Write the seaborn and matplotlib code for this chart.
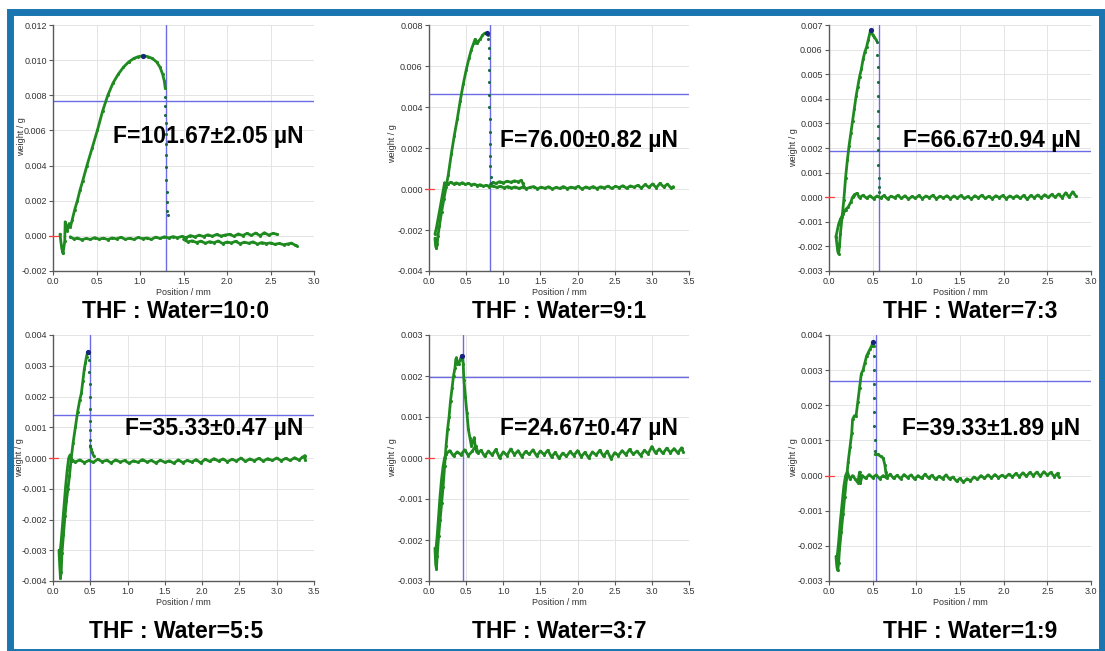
import matplotlib
matplotlib.use("Agg")
import matplotlib.pyplot as plt
import matplotlib.patches as mpatches
from matplotlib.ticker import MultipleLocator, FormatStrFormatter
import pandas as pd
import seaborn as sns

# Panel labels and annotations
captions = ["THF : Water=10:0", "THF : Water=9:1", "THF : Water=7:3",
            "THF : Water=5:5", "THF : Water=3:7", "THF : Water=1:9"]
forces = ["F=101.67\u00b12.05 \u00b5N", "F=76.00\u00b10.82 \u00b5N", "F=66.67\u00b10.94 \u00b5N",
          "F=35.33\u00b10.47 \u00b5N", "F=24.67\u00b10.47 \u00b5N", "F=39.33\u00b11.89 \u00b5N"]

# Axis ranges
x_max = [3.0, 3.5, 3.0, 3.5, 3.5, 3.0]
y_min = [-0.002, -0.004, -0.003, -0.004, -0.003, -0.003]
y_max = [0.012, 0.008, 0.007, 0.004, 0.003, 0.004]
y_step = [0.002, 0.002, 0.001, 0.001, 0.001, 0.001]

# Cursor lines (x = position, y = weight)
cursor_x = [1.296, 0.82, 0.573, 0.498, 0.46, 0.54]
cursor_y = [0.0077, 0.00463, 0.00186, 0.0014, 0.00198, 0.00269]

# Peak points
peak_x = [1.03, 0.78, 0.48, 0.47, 0.45, 0.50]
peak_y = [0.01025, 0.0076, 0.0068, 0.00345, 0.0025, 0.0038]

# ---- Panel 1: THF:Water = 10:0
p1_rise = [(0.08, 0.0001), (0.10, -0.0007), (0.115, -0.0010), (0.135, -0.0003), (0.14, 0.0008),
           (0.165, 0.0003), (0.185, 0.0007), (0.20, 0.0005), (0.22, 0.0009), (0.25, 0.0015),
           (0.28, 0.0020), (0.31, 0.0026), (0.34, 0.0031), (0.39, 0.0040), (0.45, 0.0050),
           (0.51, 0.0060), (0.57, 0.0071), (0.63, 0.0080), (0.69, 0.0087), (0.75, 0.0092),
           (0.81, 0.0096), (0.87, 0.0099), (0.93, 0.0101), (0.98, 0.0102), (1.04, 0.01025),
           (1.09, 0.0102), (1.14, 0.0101), (1.19, 0.0099), (1.23, 0.0096), (1.26, 0.0092),
           (1.28, 0.0088), (1.29, 0.0084)]
p1_drop = [(1.29, 0.0079), (1.29, 0.0074), (1.29, 0.0069), (1.30, 0.0064), (1.30, 0.0058),
           (1.30, 0.0052), (1.30, 0.0046), (1.30, 0.0039), (1.30, 0.0032), (1.31, 0.0025),
           (1.31, 0.0019), (1.31, 0.0014), (1.32, 0.0012)]
p1_base_a = [(0.20, -0.00005), (0.24, -0.00018), (0.28, -0.00012), (0.33, -0.00022), (0.38, -0.00015),
             (0.43, -0.0002), (0.48, -0.0001), (0.53, -0.00019), (0.58, -0.00013), (0.63, -0.00021),
             (0.68, -0.00012), (0.73, -0.00017), (0.78, -0.00008), (0.83, -0.00019), (0.88, -0.00014),
             (0.93, -0.0002), (0.98, -0.00009), (1.03, -0.00016), (1.08, -0.00012), (1.13, -0.0002),
             (1.18, -0.00007), (1.23, -0.00015), (1.28, -0.00005), (1.33, -0.00012), (1.38, -0.00004),
             (1.43, -0.00011), (1.48, -0.00003), (1.53, -0.0001), (1.58, 0.00002), (1.63, -0.00006),
             (1.68, 0.00004), (1.73, -0.00004), (1.78, 0.00006), (1.83, -0.00002), (1.88, 0.00008),
             (1.93, -0.00001), (1.98, 0.00005), (2.03, 0.00009), (2.08, -0.00002), (2.13, 0.00011),
             (2.18, 0.00002), (2.23, 0.00014), (2.28, 0.00003), (2.33, 0.00016), (2.38, 0.00001),
             (2.43, 0.00018), (2.48, 0.00004), (2.53, 0.00015), (2.58, 0.00008)]
p1_base_b = [(1.50, -0.0002), (1.55, -0.00034), (1.60, -0.00028), (1.65, -0.00038), (1.70, -0.0003),
             (1.75, -0.00042), (1.80, -0.00033), (1.85, -0.00039), (1.90, -0.00029), (1.95, -0.00044),
             (2.00, -0.00035), (2.05, -0.0004), (2.10, -0.00031), (2.15, -0.00045), (2.20, -0.00036),
             (2.25, -0.00042), (2.30, -0.00034), (2.35, -0.00047), (2.40, -0.00038), (2.45, -0.00044),
             (2.50, -0.0004), (2.55, -0.00048), (2.60, -0.00043), (2.65, -0.0005), (2.70, -0.00046),
             (2.74, -0.00041), (2.78, -0.00052), (2.80, -0.00055)]

# ---- Panel 2: THF:Water = 9:1
p2_rise = [(0.08, -0.0024), (0.09, -0.0028), (0.10, -0.0029), (0.11, -0.0027), (0.12, -0.0023),
           (0.14, -0.0018), (0.17, -0.0011), (0.20, -0.0005), (0.23, 0.0001), (0.26, 0.0007),
           (0.30, 0.0017), (0.34, 0.0026), (0.38, 0.0034), (0.42, 0.0043), (0.46, 0.0051),
           (0.50, 0.0058), (0.54, 0.0064), (0.57, 0.0068), (0.60, 0.0071), (0.62, 0.0073),
           (0.64, 0.0071), (0.66, 0.0072), (0.69, 0.0073), (0.72, 0.0075), (0.75, 0.0076),
           (0.78, 0.0076), (0.80, 0.0075)]
p2_drop = [(0.80, 0.0073), (0.81, 0.0069), (0.81, 0.0064), (0.81, 0.0058), (0.81, 0.0052),
           (0.81, 0.0046), (0.81, 0.0040), (0.82, 0.0034), (0.82, 0.0028), (0.82, 0.0022),
           (0.82, 0.0016), (0.82, 0.0011), (0.83, 0.0006), (0.83, 0.0003)]
p2_left = [(0.08, -0.0022), (0.10, -0.0019), (0.12, -0.0015), (0.15, -0.0009), (0.18, -0.0003),
           (0.21, 0.0003)]
p2_base_a = [(0.21, 0.0003), (0.25, 0.00022), (0.29, 0.00033), (0.33, 0.00025), (0.37, 0.0003),
             (0.41, 0.00024), (0.45, 0.00031), (0.49, 0.00022), (0.53, 0.00028), (0.57, 0.0002),
             (0.61, 0.00024), (0.65, 0.00017), (0.69, 0.00021), (0.73, 0.00014), (0.77, 0.00018),
             (0.81, 0.00012), (0.86, 0.00015), (0.91, 0.00008), (0.96, 0.00013), (1.01, 0.00006),
             (1.06, 0.00012), (1.11, 0.00005), (1.16, 0.0001), (1.21, 0.00003), (1.26, 0.00009),
             (1.31, 0.00002), (1.36, 0.00008), (1.41, 0.00012), (1.46, 0.00001), (1.51, 0.00009),
             (1.56, 0.00004), (1.61, 0.00011), (1.66, 0.0), (1.71, 0.00008), (1.76, 0.00003),
             (1.81, 0.00012), (1.86, 0.00002), (1.91, 0.00009), (1.96, 0.00005), (2.01, 0.00013),
             (2.06, 0.0), (2.11, 0.0001), (2.16, 0.00004), (2.21, 0.00012), (2.26, 0.00002),
             (2.31, 0.00011), (2.36, 0.00006), (2.41, 0.00014), (2.46, 0.00003), (2.51, 0.00013),
             (2.56, 0.00007), (2.61, 0.00016), (2.66, 0.00004), (2.71, 0.00015), (2.76, 0.00009),
             (2.81, 0.00018), (2.86, 0.00005), (2.91, 0.00022), (2.96, 0.00008), (3.01, 0.00025),
             (3.06, 0.00006), (3.11, 0.00028), (3.16, 0.0001), (3.21, 0.00024), (3.26, 0.00004),
             (3.29, 0.00012)]
p2_base_b = [(0.82, 0.0002), (0.86, 0.00032), (0.90, 0.00027), (0.95, 0.00036), (1.00, 0.0003),
             (1.05, 0.00038), (1.10, 0.00033), (1.15, 0.0004), (1.20, 0.00035), (1.24, 0.00042),
             (1.26, 0.0003), (1.28, 0.00012)]

# ---- Panel 3: THF:Water = 7:3
p3_rise = [(0.08, -0.0016), (0.09, -0.0019), (0.10, -0.0022), (0.11, -0.0023), (0.12, -0.0020),
           (0.13, -0.0015), (0.15, -0.0008), (0.17, -0.0001), (0.19, 0.0008), (0.21, 0.0015),
           (0.23, 0.0021), (0.25, 0.0026), (0.27, 0.0031), (0.29, 0.0036), (0.31, 0.0041),
           (0.33, 0.0045), (0.35, 0.0049), (0.37, 0.0052), (0.39, 0.0056), (0.41, 0.0059),
           (0.43, 0.0061), (0.45, 0.0064), (0.47, 0.0067), (0.48, 0.0068), (0.50, 0.0066),
           (0.52, 0.0065), (0.54, 0.0064)]
p3_drop = [(0.55, 0.0063), (0.55, 0.0058), (0.56, 0.0053), (0.56, 0.0047), (0.56, 0.0041),
           (0.56, 0.0035), (0.56, 0.0029), (0.56, 0.0024), (0.56, 0.0019), (0.56, 0.0013),
           (0.57, 0.0008), (0.57, 0.0004), (0.57, 0.0002)]
p3_left = [(0.08, -0.0016), (0.11, -0.0011), (0.13, -0.0009), (0.16, -0.0007), (0.19, -0.0005),
           (0.22, -0.0004), (0.25, -0.0002), (0.27, 0.0), (0.29, 0.0001)]
p3_base = [(0.29, 0.0001), (0.32, 0.00016), (0.35, -0.00002), (0.39, 0.00008), (0.43, -0.00004),
           (0.47, 0.00006), (0.51, -0.00006), (0.55, 0.00005), (0.59, -0.00003), (0.63, 0.00007),
           (0.67, -0.00007), (0.71, 0.00004), (0.75, -0.00002), (0.79, 0.00008), (0.83, -0.00005),
           (0.87, 0.00006), (0.91, -0.00008), (0.95, 0.00003), (0.99, -0.00004), (1.03, 0.00007),
           (1.07, -0.00006), (1.11, 0.00005), (1.15, -0.00002), (1.19, 0.00008), (1.23, -0.00007),
           (1.27, 0.00004), (1.31, -0.00003), (1.35, 0.00006), (1.39, -0.00006), (1.43, 0.00005),
           (1.47, -0.00004), (1.51, 0.00007), (1.55, -0.00005), (1.59, 0.00003), (1.63, -0.00007),
           (1.67, 0.00006), (1.71, -0.00003), (1.75, 0.00008), (1.79, -0.00005), (1.83, 0.00004),
           (1.87, -0.00006), (1.91, 0.00006), (1.95, -0.00002), (1.99, 0.00007), (2.03, -0.00006),
           (2.07, 0.00005), (2.11, -0.00003), (2.15, 0.00006), (2.19, -0.00005), (2.23, 0.00008),
           (2.27, -0.00009), (2.31, 0.00007), (2.35, -0.00002), (2.39, 0.00009), (2.43, -0.00003),
           (2.47, 0.0001), (2.51, -0.00001), (2.55, 0.00011), (2.59, 0.0), (2.63, 0.00013),
           (2.67, -0.00002), (2.71, 0.00018), (2.75, 0.0), (2.79, 0.00022), (2.83, 0.00003)]

# ---- Panel 4: THF:Water = 5:5
p4_rise = [(0.08, -0.0030), (0.09, -0.0035), (0.10, -0.0039), (0.11, -0.0037), (0.12, -0.0031),
           (0.14, -0.0025), (0.16, -0.0019), (0.18, -0.0014), (0.20, -0.0010), (0.22, -0.0006),
           (0.245, 0.0), (0.27, 0.0005), (0.30, 0.0010), (0.33, 0.0015), (0.36, 0.0019),
           (0.38, 0.0021), (0.40, 0.0025), (0.42, 0.0029), (0.435, 0.0031), (0.45, 0.0033),
           (0.46, 0.0034), (0.47, 0.00345), (0.48, 0.0034)]
p4_drop = [(0.48, 0.0032), (0.48, 0.0028), (0.49, 0.0024), (0.49, 0.0020), (0.49, 0.0016),
           (0.49, 0.0012), (0.49, 0.0009), (0.49, 0.0006), (0.50, 0.0004)]
p4_bump = [(0.50, 0.0004), (0.51, 0.0003), (0.52, 0.0002), (0.55, 0.00005)]
p4_left = [(0.09, -0.0032), (0.11, -0.0027), (0.13, -0.0021), (0.15, -0.0015), (0.17, -0.0009),
           (0.19, -0.0004), (0.21, 0.0), (0.23, 0.0001), (0.25, -0.0001)]
p4_base = [(0.25, -0.00005), (0.30, -0.00013), (0.36, -0.00006), (0.42, -0.00015), (0.48, -0.00008),
           (0.54, -0.00014), (0.60, -0.00004), (0.66, -0.00012), (0.72, -0.00007), (0.78, -0.00016),
           (0.84, -0.00006), (0.90, -0.00013), (0.96, -0.00008), (1.02, -0.00017), (1.08, -0.00009),
           (1.14, -0.00014), (1.20, -0.00005), (1.26, -0.00013), (1.32, -0.00008), (1.38, -0.00016),
           (1.44, -0.00007), (1.50, -0.00014), (1.56, -0.00009), (1.62, -0.00017), (1.68, -0.00006),
           (1.74, -0.00015), (1.80, -0.00008), (1.86, -0.00013), (1.92, -0.00005), (1.98, -0.00016),
           (2.04, -0.00004), (2.10, -0.00011), (2.16, -0.00002), (2.22, -0.0001), (2.28, -0.00003),
           (2.34, -0.00012), (2.40, -0.00004), (2.46, -0.0001), (2.52, 0.0), (2.58, -0.00011),
           (2.64, -0.00003), (2.70, -0.00009), (2.76, -0.00001), (2.82, -0.0001), (2.88, -0.00002),
           (2.94, -0.00008), (3.00, 0.0), (3.06, -0.00009), (3.12, -0.00001), (3.18, -0.00008),
           (3.24, 0.00001), (3.30, -0.00007), (3.34, 0.00002), (3.38, 0.00008), (3.38, -0.00006)]

# ---- Panel 5: THF:Water = 3:7
p5_rise = [(0.08, -0.0022), (0.09, -0.0026), (0.10, -0.0027), (0.11, -0.0024), (0.13, -0.0019),
           (0.15, -0.0015), (0.17, -0.0011), (0.19, -0.0007), (0.21, -0.0002), (0.23, 0.0003),
           (0.25, 0.0007), (0.27, 0.0010), (0.29, 0.0014), (0.31, 0.0017), (0.33, 0.0020),
           (0.35, 0.0022), (0.36, 0.0024), (0.37, 0.00245), (0.38, 0.0023), (0.40, 0.0023),
           (0.42, 0.0024), (0.44, 0.0025), (0.45, 0.0025), (0.46, 0.0023), (0.47, 0.0019),
           (0.49, 0.0015), (0.51, 0.0011), (0.53, 0.0007), (0.55, 0.0005), (0.57, 0.0003),
           (0.59, 0.0004), (0.61, 0.0005), (0.62, 0.0003), (0.64, 0.00015)]
p5_left = [(0.09, -0.0023), (0.11, -0.0019), (0.13, -0.0014), (0.15, -0.0009), (0.17, -0.0005),
           (0.19, -0.0002), (0.21, 0.0), (0.23, 0.0001)]
p5_base = [(0.23, 0.0001), (0.28, 0.00018), (0.33, 0.00005), (0.38, 0.00015), (0.43, 0.00008),
           (0.48, 0.0002), (0.53, 0.00006), (0.58, 0.00016), (0.63, 0.0003), (0.66, 0.00012),
           (0.70, 0.00019), (0.75, 0.00004), (0.80, 0.00017), (0.85, 0.00007), (0.90, 0.00021),
           (0.95, 0.0), (1.00, 0.00015), (1.05, 0.00006), (1.10, 0.00022), (1.15, 0.00008),
           (1.20, 0.00018), (1.25, 0.00003), (1.30, 0.00016), (1.35, 0.00009), (1.40, 0.0002),
           (1.45, 0.00005), (1.50, 0.00017), (1.55, 0.00008), (1.60, 0.00019), (1.65, 0.00002),
           (1.70, 0.00014), (1.75, -0.00001), (1.80, 0.00012), (1.85, 0.00004), (1.90, 0.00016),
           (1.95, 0.00006), (2.00, 0.00018), (2.05, 0.00003), (2.10, 0.00014), (2.15, 0.0),
           (2.20, 0.00015), (2.25, 0.00007), (2.30, 0.00019), (2.35, 0.00004), (2.40, 0.00017),
           (2.45, -0.00002), (2.50, 0.00013), (2.55, 0.00006), (2.60, 0.00018), (2.65, 0.00008),
           (2.70, 0.00021), (2.75, 0.00009), (2.80, 0.00017), (2.85, 0.00006), (2.90, 0.00019),
           (2.95, 0.0001), (3.00, 0.00028), (3.05, 0.00012), (3.10, 0.00022), (3.15, 0.00011),
           (3.20, 0.00024), (3.25, 0.00013), (3.30, 0.00023), (3.35, 0.00012), (3.40, 0.00025),
           (3.42, 0.00015)]

# ---- Panel 6: THF:Water = 1:9
p6_rise = [(0.08, -0.0023), (0.09, -0.0026), (0.10, -0.0027), (0.11, -0.0025), (0.12, -0.0021),
           (0.14, -0.0016), (0.16, -0.0011), (0.18, -0.0006), (0.20, -0.0001), (0.22, 0.0004),
           (0.24, 0.0008), (0.26, 0.0012), (0.27, 0.0016), (0.29, 0.0017), (0.31, 0.0017),
           (0.33, 0.0021), (0.35, 0.0025), (0.37, 0.0029), (0.39, 0.0030), (0.41, 0.0032),
           (0.43, 0.0034), (0.45, 0.0035), (0.47, 0.0036), (0.49, 0.0037), (0.50, 0.0038),
           (0.51, 0.0037)]
p6_drop = [(0.52, 0.0034), (0.52, 0.0030), (0.52, 0.0026), (0.52, 0.0022), (0.52, 0.0018),
           (0.52, 0.0014), (0.53, 0.0010), (0.53, 0.0007)]
p6_bump = [(0.53, 0.0006), (0.56, 0.0006), (0.59, 0.00055), (0.62, 0.0005), (0.64, 0.0003),
           (0.65, 0.0001), (0.66, 0.0)]
p6_left = [(0.09, -0.0024), (0.11, -0.0019), (0.13, -0.0013), (0.15, -0.0008), (0.17, -0.0003),
           (0.19, 0.0), (0.21, 0.0001), (0.24, -0.0001), (0.27, 0.0), (0.30, -0.0001),
           (0.33, -0.0002), (0.35, 0.0001), (0.36, -0.0002), (0.38, 0.0)]
p6_base = [(0.38, 0.0), (0.42, -0.00008), (0.46, 0.00003), (0.50, -0.00006), (0.54, 0.00002),
           (0.58, -0.00009), (0.62, 0.0), (0.66, -0.00007), (0.70, 0.00004), (0.74, -0.00008),
           (0.78, 0.00001), (0.82, -0.00009), (0.86, 0.00003), (0.90, -0.00006), (0.94, 0.00002),
           (0.98, -0.0001), (1.02, 0.0), (1.06, -0.00008), (1.10, 0.00004), (1.14, -0.00007),
           (1.18, 0.00001), (1.22, -0.00011), (1.26, -0.00002), (1.30, -0.00009), (1.34, 0.00002),
           (1.38, -0.0001), (1.42, -0.00004), (1.46, -0.00016), (1.50, -0.00008), (1.54, -0.00019),
           (1.58, -0.00009), (1.62, -0.00015), (1.66, -0.00004), (1.70, -0.00011), (1.74, 0.0),
           (1.78, -0.00008), (1.82, 0.00002), (1.86, -0.00007), (1.90, 0.00003), (1.94, -0.00006),
           (1.98, 0.00001), (2.02, -0.00005), (2.06, 0.00004), (2.10, -0.00004), (2.14, 0.00006),
           (2.18, -0.00003), (2.22, 0.00008), (2.26, -0.00002), (2.30, 0.00009), (2.34, 0.0),
           (2.38, 0.0001), (2.42, -0.00002), (2.46, 0.00011), (2.50, 0.00001), (2.54, 0.00009),
           (2.58, -0.00003), (2.62, 0.00007), (2.63, -0.00004)]

line_segments = [
    [p1_rise, p1_base_a, p1_base_b],
    [p2_rise, p2_left, p2_base_a, p2_base_b],
    [p3_rise, p3_left, p3_base],
    [p4_rise, p4_bump, p4_left, p4_base],
    [p5_rise, p5_left, p5_base],
    [p6_rise, p6_bump, p6_left, p6_base],
]
drop_points = [p1_drop, p2_drop, p3_drop, p4_drop, [], p6_drop]

# ---- layout (pixels of the 1105x651 image)
W, H = 1105, 651
col_left = [53, 429, 829]
col_right = [314, 689, 1091]
row_top = [25, 335]
row_bottom = [271, 581]
force_pos = [(113, 137), (500, 140), (903, 140), (125, 428), (500, 428), (902, 428)]
caption_x = [176, 559, 970]
caption_y = [311, 632]
ylabel_x = [-0.105, -0.122, -0.117, -0.11, -0.122, -0.117]
ylabel_y = [0.545, 0.52, 0.5, 0.5, 0.5, 0.5]

GREEN = "#1f8a1f"
DROP = "#1d6b45"
CURSOR = "#6b6be6"
FRAME = "#1a75b0"

sns.set_style("whitegrid")
plt.rcParams["font.family"] = ["Liberation Sans", "DejaVu Sans"]

fig = plt.figure(figsize=(W / 100, H / 100), dpi=100)

for i in range(6):
    r, c = divmod(i, 3)
    left = col_left[c] / W
    bottom = 1 - row_bottom[r] / H
    width = (col_right[c] - col_left[c]) / W
    height = (row_bottom[r] - row_top[r]) / H
    ax = fig.add_axes([left, bottom, width, height])

    ax.axvline(cursor_x[i], color=CURSOR, lw=1.0, zorder=1)
    ax.axhline(cursor_y[i], color=CURSOR, lw=1.0, zorder=1)

    for seg in line_segments[i]:
        df = pd.DataFrame(seg, columns=["x", "y"])
        sns.lineplot(data=df, x="x", y="y", sort=False, estimator=None, ax=ax,
                     color=GREEN, lw=2.0, marker="o", markersize=2.2,
                     markeredgewidth=0, zorder=3)
    if drop_points[i]:
        dd = pd.DataFrame(drop_points[i], columns=["x", "y"])
        sns.scatterplot(data=dd, x="x", y="y", ax=ax, color=DROP, s=5,
                        linewidth=0, zorder=4)
    sns.scatterplot(x=[peak_x[i]], y=[peak_y[i]], ax=ax, color="#1a237e", s=14,
                    linewidth=0, zorder=5)

    ax.axhline(0, xmin=-0.015, xmax=0.02, color="#ff3b3b", lw=0.9, clip_on=False, zorder=6)

    ax.set_xlim(0, x_max[i])
    ax.set_ylim(y_min[i], y_max[i])
    ax.xaxis.set_major_locator(MultipleLocator(0.5))
    ax.yaxis.set_major_locator(MultipleLocator(y_step[i]))
    ax.xaxis.set_major_formatter(FormatStrFormatter("%.1f"))
    ax.yaxis.set_major_formatter(FormatStrFormatter("%.3f"))

    ax.grid(True, color="#e4e4e4", lw=0.7)
    ax.set_facecolor("white")
    for s in ["top", "right"]:
        ax.spines[s].set_visible(False)
    for s in ["left", "bottom"]:
        ax.spines[s].set_color("#5a5a5a")
        ax.spines[s].set_linewidth(1.0)
    ax.tick_params(left=True, bottom=True, length=3, width=0.8, color="#5a5a5a",
                   labelsize=6.5, labelcolor="#333333", pad=1.5)

    ax.set_xlabel("Position / mm", fontsize=6.5, color="#333333")
    ax.set_ylabel("weight / g", fontsize=6.5, color="#333333")
    ax.xaxis.set_label_coords(0.5, -0.07)
    ax.yaxis.set_label_coords(ylabel_x[i], ylabel_y[i])

    fx, fy = force_pos[i]
    fig.text(fx / W, 1 - fy / H, forces[i], fontsize=16.5, fontweight="bold",
             ha="left", va="center", color="black")
    fig.text(caption_x[c] / W, 1 - caption_y[r] / H, captions[i], fontsize=16.5,
             fontweight="bold", ha="center", va="center", color="black")

# Blue outer frame
frame = mpatches.Rectangle((9.5 / W, -0.5 / H), 1092 / W, 640 / H,
                           transform=fig.transFigure, fill=False,
                           edgecolor=FRAME, linewidth=5.0)
fig.patches.append(frame)

fig.savefig("out.png", dpi=100)
